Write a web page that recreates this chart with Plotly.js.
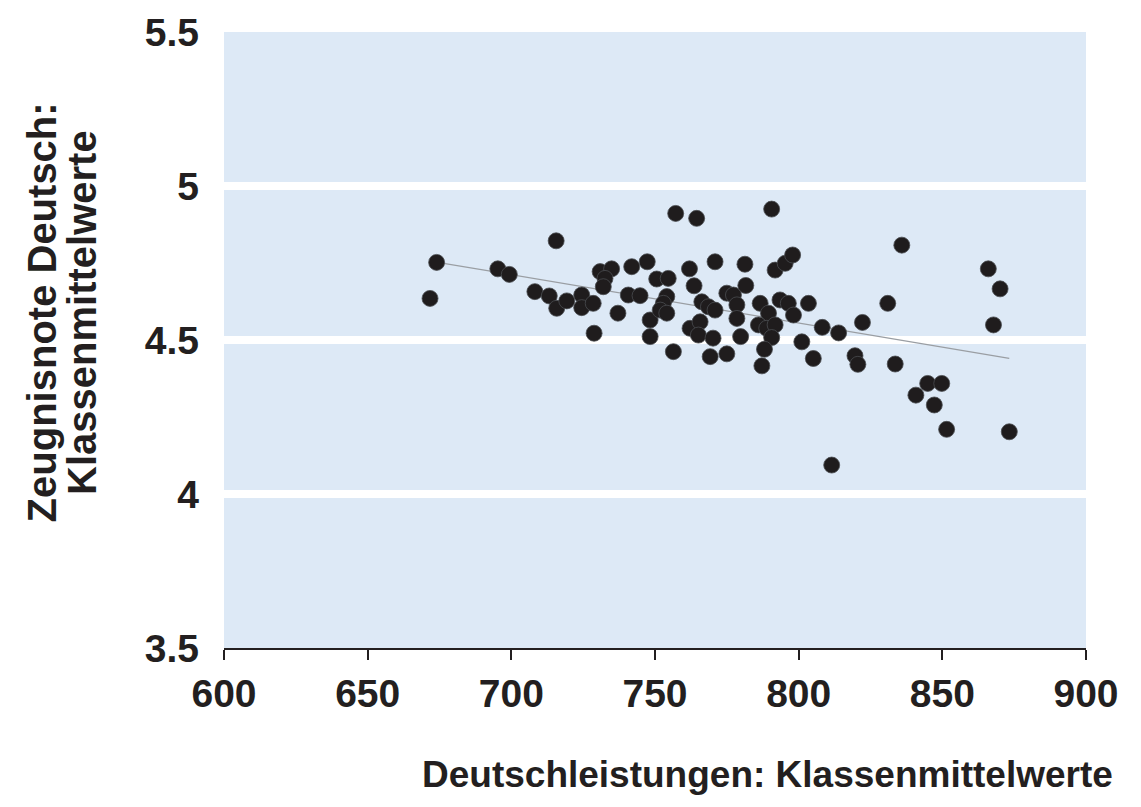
<!DOCTYPE html>
<html>
<head>
<meta charset="utf-8">
<script src="https://cdn.plot.ly/plotly-3.0.1.min.js"></script>
<style>html,body{margin:0;padding:0;background:#fff;}#chart{width:1141px;height:807px;}</style>
</head>
<body>
<div id="chart"></div>
<script>
// Class means: German performance (x) vs. German report-card grade (y)
var leistung = [671.7,674.0,695.3,699.3,715.6,708.2,713.2,715.8,719.3,724.5,724.5,728.5,728.8,730.9,734.9,732.6,732.0,737.1,740.7,741.9,744.8,747.3,748.3,748.3,750.6,754.6,754.1,752.9,751.8,754.1,757.2,764.5,762.0,763.6,756.4,766.3,768.6,770.9,762.2,765.7,765.1,770.2,769.2,770.9,775.0,777.3,778.5,778.5,775.0,779.8,781.3,781.6,786.6,789.5,786.0,788.9,791.8,790.6,788.1,787.2,790.6,791.8,795.3,797.9,793.5,796.4,798.2,801.1,803.4,805.1,808.2,813.9,822.2,831.0,835.9,819.6,820.6,833.6,844.9,849.8,840.8,847.2,851.5,873.3,811.5,866.0,870.1,867.8];
var note = [4.635,4.752,4.731,4.713,4.822,4.657,4.643,4.603,4.627,4.646,4.605,4.619,4.522,4.722,4.731,4.700,4.673,4.587,4.646,4.738,4.644,4.754,4.565,4.511,4.698,4.700,4.641,4.619,4.597,4.587,4.911,4.895,4.731,4.676,4.462,4.624,4.608,4.597,4.538,4.559,4.516,4.506,4.446,4.754,4.652,4.646,4.614,4.570,4.455,4.511,4.746,4.677,4.619,4.587,4.549,4.538,4.549,4.508,4.470,4.416,4.925,4.727,4.749,4.776,4.630,4.619,4.581,4.494,4.619,4.440,4.541,4.523,4.557,4.619,4.808,4.449,4.421,4.422,4.359,4.359,4.321,4.289,4.210,4.202,4.094,4.731,4.666,4.549];
var xTicks = [600,650,700,750,800,850,900];
var yTicks = [3.5,4,4.5,5,5.5];
var yTickText = ['3.5','4','4.5','5','5.5'];
var xTitle = 'Deutschleistungen: Klassenmittelwerte';
var yTitleLines = ['Zeugnisnote Deutsch:', 'Klassenmittelwerte'];

// least-squares regression line over the points
var n = leistung.length, sx=0, sy=0, sxx=0, sxy=0;
for (var i=0;i<n;i++){sx+=leistung[i];sy+=note[i];sxx+=leistung[i]*leistung[i];sxy+=leistung[i]*note[i];}
var slope = (n*sxy - sx*sy)/(n*sxx - sx*sx);
var icpt = (sy - slope*sx)/n;
var xmin = Math.min.apply(null, leistung), xmax = Math.max.apply(null, leistung);
var fitX = [xmin, xmax];
var fitY = fitX.map(function(v){return icpt + slope*v;});

var FONT = 'Liberation Sans, Arial, sans-serif';
var INK = '#231f20';

var data = [
  {x: fitX, y: fitY, type: 'scatter', mode: 'lines', line: {color: '#9a9ea3', width: 1.2}, hoverinfo: 'skip', showlegend: false},
  {x: leistung, y: note, type: 'scatter', mode: 'markers',
   marker: {size: 16, color: '#1f1c1d', line: {color: '#4a4c50', width: 0.8}}, showlegend: false}
];

var layout = {
  width: 1141, height: 807,
  margin: {l: 224, r: 55, t: 32, b: 159},
  paper_bgcolor: '#ffffff',
  plot_bgcolor: '#dde9f6',
  showlegend: false,
  xaxis: {
    range: [600, 900], tickvals: xTicks, ticktext: xTicks.map(String),
    showgrid: false, zeroline: false,
    showline: true, linecolor: INK, linewidth: 2,
    ticks: 'outside', ticklen: 10, tickwidth: 2, tickcolor: INK,
    ticklabelstandoff: 0,
    tickfont: {family: FONT, size: 39, color: INK, weight: 'bold'}
  },
  yaxis: {
    range: [3.5, 5.5], tickvals: yTicks, ticktext: yTickText,
    showgrid: true, gridcolor: '#ffffff', gridwidth: 8,
    zeroline: false, showline: false, ticks: '',
    ticklabelstandoff: 24,
    tickfont: {family: FONT, size: 39, color: INK, weight: 'bold'}
  },
  annotations: [
    {text: '<b>' + xTitle + '</b>', xref: 'paper', yref: 'paper', x: 0.631, y: -0.205, xanchor: 'center', yanchor: 'middle',
     showarrow: false, font: {family: FONT, size: 37, color: INK}},
    {text: '<b>' + yTitleLines[0] + '</b>', xref: 'paper', yref: 'paper', x: -0.211, y: 0.545, xanchor: 'center', yanchor: 'middle',
     textangle: -90, showarrow: false, font: {family: FONT, size: 40, color: INK}},
    {text: '<b>' + yTitleLines[1] + '</b>', xref: 'paper', yref: 'paper', x: -0.164, y: 0.545, xanchor: 'center', yanchor: 'middle',
     textangle: -90, showarrow: false, font: {family: FONT, size: 40, color: INK}}
  ]
};

Plotly.newPlot('chart', data, layout, {displayModeBar: false, staticPlot: true});
</script>
</body>
</html>
